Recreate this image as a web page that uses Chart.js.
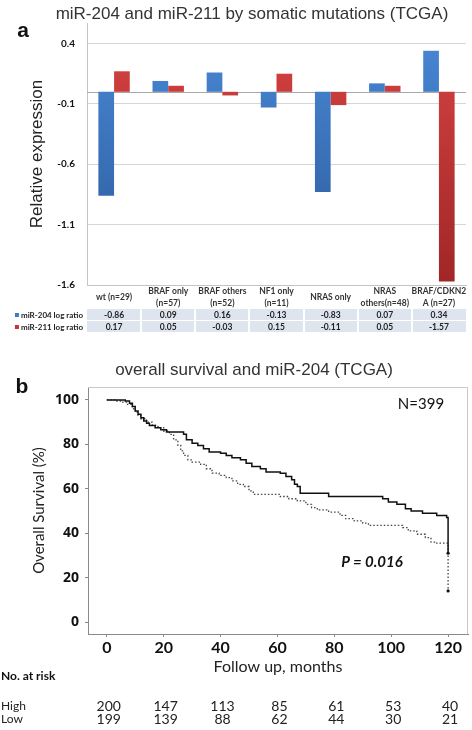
<!DOCTYPE html>
<html>
<head>
<meta charset="utf-8">
<script src="https://cdn.jsdelivr.net/npm/chart.js@4.4.1/dist/chart.umd.min.js"></script>
<style>
  html, body { margin: 0; padding: 0; background: #fff; }
  #wrap { position: relative; width: 472px; height: 730px; overflow: hidden; font-family: "Liberation Sans", Arial, sans-serif; }
  .lbl { position: absolute; white-space: nowrap; line-height: 1; transform: translate(-50%, -50%); }
  .left { transform: translate(0, -50%); }
  .title { font-size: 17px; color: #333; }
  .panel { font-size: 21px; font-weight: bold; color: #111; }
  .cal { font-family: Lato, "Open Sans", sans-serif; color: #111; }
  #boxA { position: absolute; left: 0; top: 0; width: 472px; height: 345px; }
  #boxB { position: absolute; left: 0; top: 345px; width: 472px; height: 385px; }
</style>
</head>
<body>
<div id="wrap">
  <div id="boxA"><canvas id="barChart"></canvas></div>
  <div id="boxB"><canvas id="kmChart"></canvas></div>

  <div class="lbl title" style="left:252px; top:13px;">miR-204 and miR-211 by somatic mutations (TCGA)</div>
  <div class="lbl panel" style="left:23px; top:29px;">a</div>

  <div class="lbl title" style="left:254px; top:369px;">overall survival and miR-204 (TCGA)</div>
  <div class="lbl panel" style="left:22px; top:385px;">b</div>

  <div class="lbl cal" style="left:421px; top:403px; font-size:15px;">N=399</div>
  <div class="lbl cal" style="left:372px; top:561px; font-size:15px; font-weight:bold; font-style:italic;">P = 0.016</div>
  <div class="lbl cal left" style="left:1px; top:676px; font-size:12px; font-weight:bold;">No. at risk</div>
  <div class="lbl cal left" style="left:1px; top:706px; font-size:12px; color:#222;">High</div>
  <div class="lbl cal left" style="left:1px; top:719px; font-size:12px; color:#222;">Low</div>
</div>

<script>
/* ---------- panel a data ---------- */
const categories = ["wt (n=29)", "BRAF only (n=57)", "BRAF others (n=52)", "NF1 only (n=11)", "NRAS only", "NRAS others(n=48)", "BRAF/CDKN2A (n=27)"];
const categoryLines = [["wt (n=29)"], ["BRAF only", "(n=57)"], ["BRAF others", "(n=52)"], ["NF1 only", "(n=11)"], ["NRAS only"], ["NRAS", "others(n=48)"], ["BRAF/CDKN2", "A (n=27)"]];
const seriesNames = ["miR-204 log ratio", "miR-211 log ratio"];
const mir204 = [-0.86, 0.09, 0.16, -0.13, -0.83, 0.07, 0.34];
const mir211 = [0.17, 0.05, -0.03, 0.15, -0.11, 0.05, -1.57];
const yTicksA = [-1.6, -1.1, -0.6, -0.1, 0.4];

/* ---------- panel b data ---------- */
const highTime = [0, 6.5, 8, 9, 10, 11, 12, 13, 14, 15, 17, 19, 21, 27, 28, 30, 32, 34, 36, 40, 42, 44, 47, 49, 51, 54, 56, 61, 63, 65, 66, 67, 68, 78, 97, 99, 102, 105, 107, 111, 116, 119.5, 120];
const highSurv = [100, 99.5, 98.5, 97, 95, 93.5, 92, 90.5, 89.5, 88.5, 87.5, 86.5, 85.5, 84.5, 82, 80.5, 79.5, 78, 76.5, 76, 75, 74, 73, 71.5, 70, 69, 67.5, 67, 65.5, 64, 62, 61, 58, 56.5, 55.5, 54, 53, 51, 50, 49, 48, 47, 31];
const lowTime = [0, 3, 5, 7, 9, 10, 11, 12, 14, 16, 18, 20, 22, 23.5, 25, 26, 27, 28.5, 30, 33, 35, 37, 39.5, 42, 44, 46, 48, 50, 51.5, 61, 64, 67, 70, 72, 74, 78, 82, 84, 87, 90, 92, 104, 106, 109, 112, 114, 116, 120, 120];
const lowSurv = [100, 99.5, 99, 98, 96, 94.5, 93, 91.5, 90, 88.5, 87.5, 86, 84.5, 82, 79.5, 77, 75, 73, 72, 71, 69, 67, 66, 65, 63.5, 62, 61, 59, 57.5, 56.5, 55.5, 54.5, 53, 51.5, 50.5, 49.5, 48, 46.5, 45.5, 44.5, 43.5, 42.5, 41, 39.5, 38, 36, 35.5, 31, 14];
const xTicksB = [0, 20, 40, 60, 80, 100, 120];
const yTicksB = [0, 20, 40, 60, 80, 100];
const riskTimes = [0, 20, 40, 60, 80, 100, 120];
const riskHigh = [200, 147, 113, 85, 61, 53, 40];
const riskLow = [199, 139, 88, 62, 44, 30, 21];

const blue = "#3c7cc9";
const red = "#c83434";

function barFill(top, bottom) {
    return c => {
        const area = c.chart.chartArea;
        if (!area) {
            return top;
        }
        const g = c.chart.ctx.createLinearGradient(0, area.top, 0, area.bottom);
        g.addColorStop(0, top);
        g.addColorStop(1, bottom);
        return g;
    };
}

// zero line + data table under the bars
const tablePlugin = {
    id: "dataTable",
    beforeDatasetsDraw(chart) {
        const { ctx, chartArea: a, scales: { y } } = chart;
        const y0 = Math.round(y.getPixelForValue(0)) + 0.5;
        ctx.save();
        ctx.strokeStyle = "#a8a8a8";
        ctx.lineWidth = 1;
        ctx.beginPath();
        ctx.moveTo(a.left, y0);
        ctx.lineTo(a.right, y0);
        ctx.stroke();
        ctx.restore();
    },
    afterDraw(chart) {
        const { ctx, chartArea: a, scales: { x } } = chart;
        const w = (a.right - a.left) / categories.length;
        ctx.save();
        ctx.textAlign = "center";
        ctx.textBaseline = "middle";
        ctx.font = "bold 8.5px Lato";
        ctx.fillStyle = "#333";
        categoryLines.forEach((lines, i) => {
            const cx = x.getPixelForValue(i);
            const top = a.bottom + 12 - (lines.length - 1) * 6;
            lines.forEach((line, j) => ctx.fillText(line, cx, top + j * 12));
        });

        [mir204, mir211].forEach((vals, r) => {
            const top = a.bottom + 24 + r * 12;
            ctx.fillStyle = "#dfe5ef";
            ctx.fillRect(a.left, top, a.right - a.left, 11);
            ctx.fillStyle = "#fff";
            for (let i = 1; i < categories.length; i++) {
                ctx.fillRect(Math.round(a.left + i * w) - 1, top, 2, 11);
            }
            ctx.font = "bold 8.5px Lato";
            ctx.fillStyle = "#222";
            ctx.textAlign = "center";
            vals.forEach((v, i) => ctx.fillText(v.toFixed(2), x.getPixelForValue(i), top + 6));

            ctx.font = "bold 8px Lato";
            ctx.textAlign = "right";
            ctx.fillText(seriesNames[r], 83, top + 6);
            const tw = ctx.measureText(seriesNames[r]).width;
            ctx.fillStyle = r === 0 ? blue : red;
            ctx.fillRect(83 - tw - 6, top + 4, 4, 4);
        });
        ctx.restore();
    }
};

new Chart(document.getElementById("barChart"), {
    type: "bar",
    data: {
        labels: categories,
        datasets: [
            { label: seriesNames[0], data: mir204, backgroundColor: barFill("#4a8ad8", "#2a5898") },
            { label: seriesNames[1], data: mir211, backgroundColor: barFill("#d84444", "#a02626") }
        ]
    },
    options: {
        responsive: true,
        maintainAspectRatio: false,
        animation: false,
        layout: { padding: { top: 23, right: 6, bottom: 52, left: 0 } },
        datasets: { bar: { categoryPercentage: 0.58, barPercentage: 1 } },
        plugins: { legend: { display: false }, tooltip: { enabled: false } },
        scales: {
            x: {
                grid: { display: false },
                border: { color: "#c4c4c4" },
                ticks: { display: false }
            },
            y: {
                min: -1.6,
                max: 0.57,
                afterBuildTicks: s => { s.ticks = yTicksA.map(v => ({ value: v })); },
                afterFit: s => { s.width = 87; },
                grid: { color: "#d6d6d6", drawTicks: false },
                border: { color: "#c4c4c4" },
                ticks: {
                    color: "#111",
                    padding: 12,
                    font: { family: "Lato", weight: "bold", size: 10 },
                    callback: v => v.toFixed(1)
                },
                title: {
                    display: true,
                    text: "Relative expression",
                    color: "#222",
                    font: { family: "Liberation Sans", size: 17 },
                    padding: { top: 27, bottom: 0 }
                }
            }
        }
    },
    plugins: [tablePlugin]
});

// box outline and risk numbers
const kmPlugin = {
    id: "kmExtras",
    afterDraw(chart) {
        const { ctx, chartArea: a, scales: { x } } = chart;
        ctx.save();
        ctx.strokeStyle = "#c8c8c8";
        ctx.lineWidth = 1;
        ctx.beginPath();
        ctx.moveTo(a.left, a.top + 0.5);
        ctx.lineTo(a.right - 0.5, a.top + 0.5);
        ctx.lineTo(a.right - 0.5, a.bottom);
        ctx.stroke();

        ctx.font = "14px Lato";
        ctx.fillStyle = "#222";
        ctx.textAlign = "center";
        ctx.textBaseline = "middle";
        riskTimes.forEach((t, i) => {
            const px = x.getPixelForValue(t) + 2;
            ctx.fillText(String(riskHigh[i]), px, 361);
            ctx.fillText(String(riskLow[i]), px, 374);
        });
        ctx.restore();
    }
};

const endDot = n => c => (c.dataIndex === n - 1 ? 1.6 : 0);

new Chart(document.getElementById("kmChart"), {
    type: "line",
    data: {
        datasets: [
            {
                label: "High",
                data: highTime.map((t, i) => ({ x: t, y: highSurv[i] })),
                stepped: true,
                borderColor: "#111",
                borderWidth: 1.5,
                pointRadius: endDot(highTime.length),
                pointBackgroundColor: "#111",
                pointBorderWidth: 0
            },
            {
                label: "Low",
                data: lowTime.map((t, i) => ({ x: t, y: lowSurv[i] })),
                stepped: true,
                borderColor: "#444",
                borderWidth: 1.3,
                borderDash: [1.5, 2],
                pointRadius: endDot(lowTime.length),
                pointBackgroundColor: "#111",
                pointBorderWidth: 0
            }
        ]
    },
    options: {
        responsive: true,
        maintainAspectRatio: false,
        animation: false,
        layout: { padding: { top: 42, right: 2, bottom: 54, left: 0 } },
        plugins: { legend: { display: false }, tooltip: { enabled: false } },
        scales: {
            x: {
                type: "linear",
                min: -6.6,
                max: 127,
                afterBuildTicks: s => { s.ticks = xTicksB.map(v => ({ value: v })); },
                afterFit: s => { s.height = 42; },
                grid: { display: true, drawOnChartArea: false, tickLength: 3, color: "#888" },
                border: { color: "#8a8a8a" },
                ticks: {
                    color: "#111",
                    padding: 1,
                    maxRotation: 0,
                    font: { family: "Lato", weight: "bold", size: 16 }
                },
                title: {
                    display: true,
                    text: "Follow up, months",
                    color: "#222",
                    font: { family: "Lato", size: 16 },
                    padding: { top: 0, bottom: 0 }
                }
            },
            y: {
                min: -5.4,
                max: 105.8,
                afterBuildTicks: s => { s.ticks = yTicksB.map(v => ({ value: v })); },
                afterFit: s => { s.width = 88; },
                grid: { display: true, drawOnChartArea: false, tickLength: 3, color: "#888" },
                border: { color: "#8a8a8a" },
                ticks: {
                    color: "#111",
                    padding: 6,
                    font: { family: "Open Sans", weight: "bold", size: 14 }
                },
                title: {
                    display: true,
                    text: "Overall Survival (%)",
                    color: "#222",
                    font: { family: "Lato", size: 15 },
                    padding: { top: 30, bottom: 0 }
                }
            }
        }
    },
    plugins: [kmPlugin]
});
</script>
</body>
</html>
